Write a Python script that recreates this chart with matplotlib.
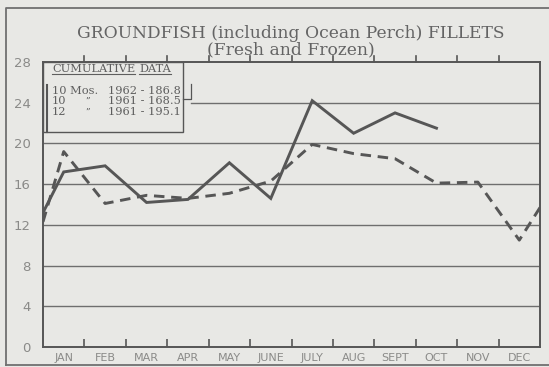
import matplotlib
matplotlib.use("Agg")
import matplotlib.pyplot as plt
from matplotlib.patches import Rectangle
from matplotlib.lines import Line2D

# monthly values, millions of pounds; first point is the preceding December,
# last dashed point is the following January
months = ["JAN", "FEB", "MAR", "APR", "MAY", "JUNE",
          "JULY", "AUG", "SEPT", "OCT", "NOV", "DEC"]
x_1962 = [0, 0.5, 1.5, 2.5, 3.5, 4.5, 5.5, 6.5, 7.5, 8.5, 9.5]
y_1962 = [13.2, 17.2, 17.8, 14.2, 14.5, 18.1, 14.6, 24.2, 21.0, 23.0, 21.5]
x_1961 = [0, 0.5, 1.5, 2.5, 3.5, 4.5, 5.5, 6.5, 7.5, 8.5, 9.5, 10.5, 11.5, 12]
y_1961 = [12.3, 19.2, 14.1, 14.9, 14.6, 15.1, 16.3, 19.9, 19.0, 18.5,
          16.1, 16.2, 10.5, 13.7]
yticks = [0, 4, 8, 12, 16, 20, 24, 28]
cum_rows = [("10 Mos.", "", "1962 - 186.8"),
            ("10", "\u201d", "1961 - 168.5"),
            ("12", "\u201d", "1961 - 195.1")]

paper = "#e8e8e5"
ink = "#565656"
grey_txt = "#8a8a88"

fig = plt.figure(figsize=(5.49, 3.67), dpi=100, facecolor=paper)
ax = fig.add_axes([43 / 549, 1 - 347 / 367, 497 / 549, 285 / 367])
ax.set_facecolor(paper)
ax.set_xlim(0, 12)
ax.set_ylim(0, 28)

# horizontal rules; the 24 rule stops at the data box
for v in yticks[1:-1]:
    x0 = 3.57 if v == 24 else 0
    ax.plot([x0, 12], [v, v], color="#6e6e6e", lw=1.0, zorder=1)

ax.plot(x_1962, y_1962, color=ink, lw=2.1, solid_joinstyle="miter", zorder=3)
ax.plot(x_1961, y_1961, color=ink, lw=2.1, dashes=(3.6, 2.3), zorder=3)

for s in ax.spines.values():
    s.set_color(ink)
    s.set_linewidth(1.4)

ax.set_yticks(yticks)
ax.set_yticklabels([str(v) for v in yticks], color=grey_txt, fontsize=9.5,
                   family="DejaVu Sans")
ax.tick_params(axis="y", length=0, pad=9)

# month boundaries carry the tick marks, names sit between them
ax.set_xticks(range(1, 12))
ax.set_xticklabels([])
ax.tick_params(axis="x", direction="in", length=6, width=1.2, color=ink)
for i in range(1, 12):
    ax.plot([i, i], [28, 28.6], color=ink, lw=1.2, clip_on=False)
for i, m in enumerate(months):
    ax.text(i + 0.5, -0.55, m, ha="center", va="top",
            color=grey_txt, fontsize=8, family="DejaVu Sans")

# cumulative data box
ax.add_patch(Rectangle((0, 21.1), 3.38, 6.9, fill=False, edgecolor=ink,
                       lw=1.0, zorder=4))
ax.plot([0.1, 0.1], [21.1, 25.7], color=ink, lw=1.5, zorder=4)
ax.plot([3.57, 3.57, 3.38], [25.8, 24.4, 24.4], color=ink, lw=0.9, zorder=4)

serif = "DejaVu Serif"
box_txt = "#5e5e5e"
fs_box = 8.2
t1 = ax.text(0.22, 27.3, "CUMULATIVE", fontsize=fs_box, family=serif,
             color=box_txt, va="center", zorder=5)
for k, (a, b, c) in enumerate(cum_rows):
    yy = 25.2 - k * 1.07
    ax.text(0.22, yy, a, fontsize=fs_box, family=serif, color=box_txt,
            va="center", zorder=5)
    ax.text(1.02, yy, b, fontsize=6.5, family=serif, color=box_txt,
            va="center", zorder=5)
    ax.text(3.33, yy, c, fontsize=fs_box, family=serif, color=box_txt,
            va="center", ha="right", zorder=5)

fig.canvas.draw()
inv = ax.transData.inverted()
bb1 = t1.get_window_extent()
x_after = inv.transform((bb1.x1 + 4, bb1.y0))[0]
t2 = ax.text(x_after, 27.3, "DATA", fontsize=fs_box, family=serif,
             color=box_txt, va="center", zorder=5)
fig.canvas.draw()
for t in (t1, t2):
    bb = t.get_window_extent()
    (xa, ya), (xb, _) = inv.transform([(bb.x0, bb.y0), (bb.x1, bb.y0)])
    ax.plot([xa, xb], [ya, ya], color=box_txt, lw=0.8, zorder=5)

title_font = "DejaVu Serif"
fig.text(291 / 549, 1 - 33 / 367, "GROUNDFISH (including Ocean Perch) FILLETS",
         ha="center", va="center", fontsize=12.3, family=title_font,
         color="#646464")
fig.text(291 / 549, 1 - 50 / 367, "(Fresh and Frozen)",
         ha="center", va="center", fontsize=12.3, family=title_font,
         color="#646464")

# page frame
fig.add_artist(Line2D([6 / 549, 6 / 549, 1.01], [1 - 365 / 367, 1 - 8 / 367,
                      1 - 8 / 367], color="#707070", lw=1.3))
fig.add_artist(Line2D([6 / 549, 1.01], [1 - 365 / 367, 1 - 365 / 367],
                      color="#707070", lw=1.3))

fig.savefig("out.png", dpi=100, facecolor=paper)
